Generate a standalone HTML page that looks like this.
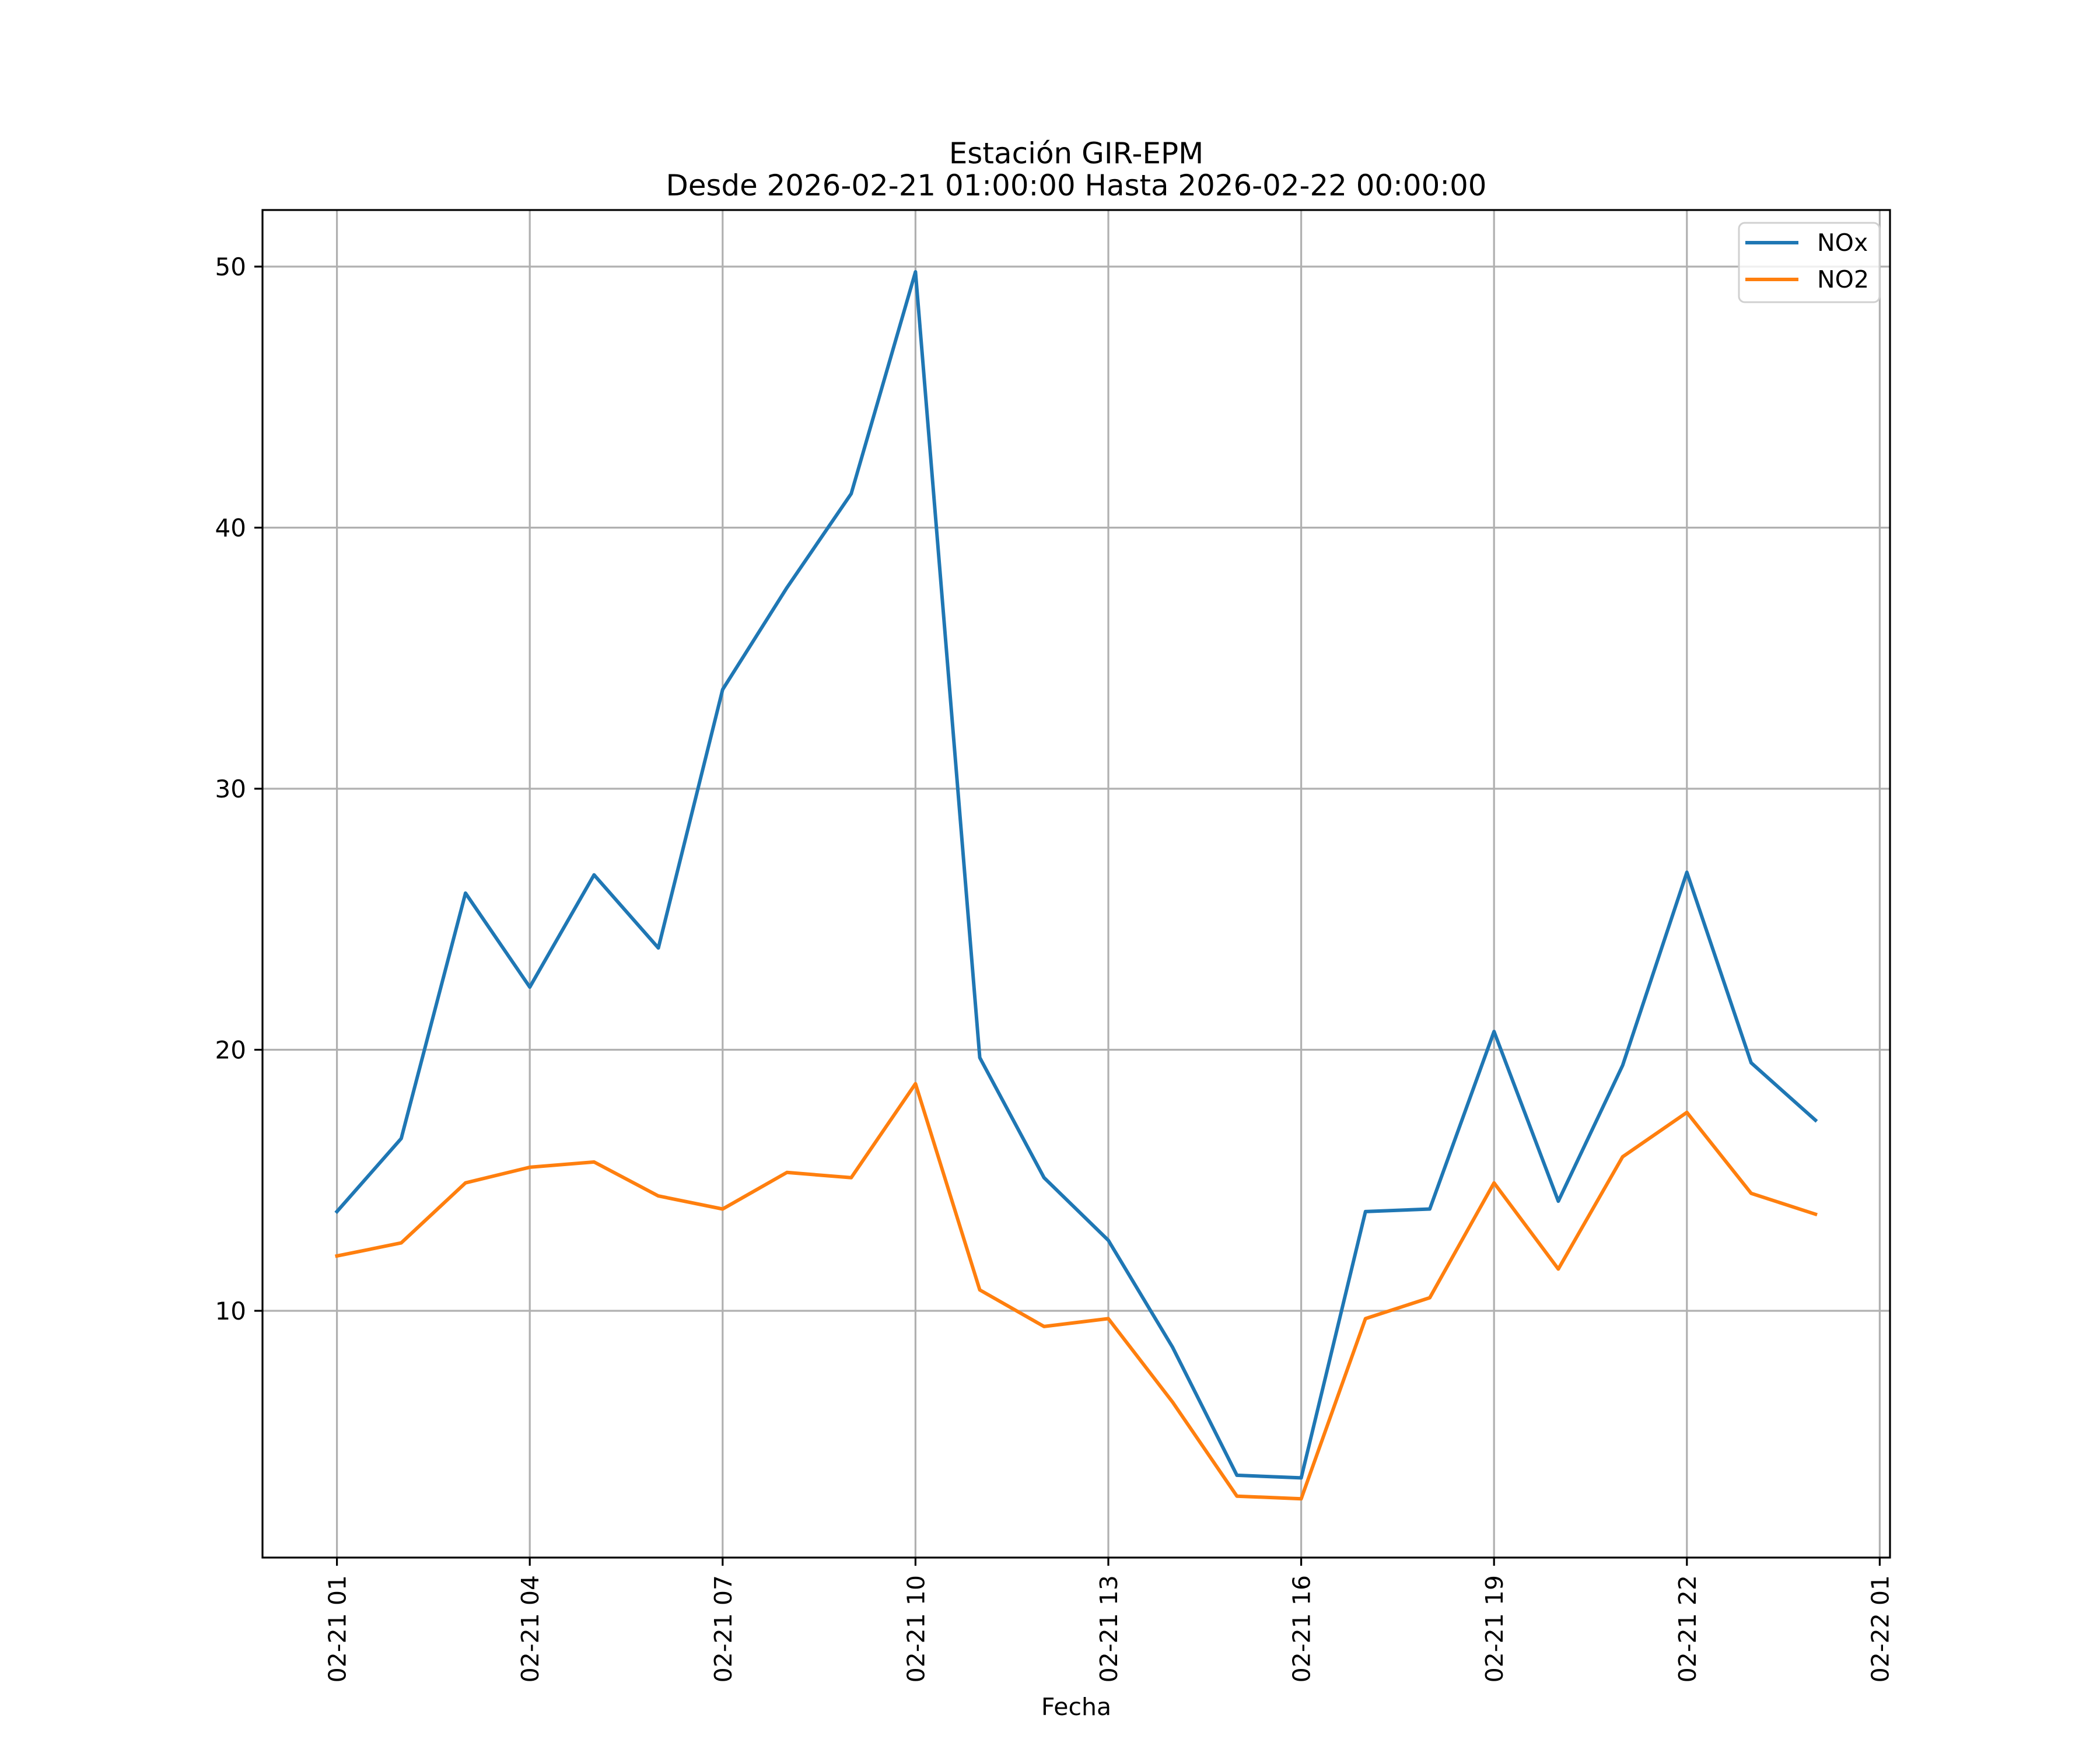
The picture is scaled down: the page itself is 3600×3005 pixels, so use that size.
<!DOCTYPE html>
<html><head><meta charset="utf-8"><style>
html,body{margin:0;padding:0;background:#fff;}
svg text{font-family:"DejaVu Sans","Liberation Sans",sans-serif;fill:#000;}
</style></head><body>
<svg id="chart" width="3600" height="3000" viewBox="0 0 3600 3000" xmlns="http://www.w3.org/2000/svg">
<rect width="3600" height="3000" fill="#fff"/>
<g id="grid"></g>
<g id="series"></g>
<rect x="450" y="360" width="2790" height="2310" fill="none" stroke="#000" stroke-width="3.2"/>
<g id="ticks"></g>
<text x="1845" y="280" font-size="50" text-anchor="middle">Estación GIR-EPM</text>
<text x="1845" y="335" font-size="50" text-anchor="middle" textLength="1407" lengthAdjust="spacingAndGlyphs">Desde 2026-02-21 01:00:00 Hasta 2026-02-22 00:00:00</text>
<text x="1845" y="2940" font-size="41" text-anchor="middle">Fecha</text>
<g>
<rect x="2981" y="382" width="241" height="136" rx="10" fill="#fff" fill-opacity="0.8" stroke="#d0d0d0" stroke-width="3"/>
<line x1="2992" y1="416" x2="3083" y2="416" stroke="#1f77b4" stroke-width="6"/>
<text x="3115" y="430" font-size="41">NOx</text>
<line x1="2992" y1="479" x2="3083" y2="479" stroke="#ff7f0e" stroke-width="6"/>
<text x="3115" y="493" font-size="41">NO2</text>
</g>
</svg>
<script>
const hours = [1,2,3,4,5,6,7,8,9,10,11,12,13,14,15,16,17,18,19,20,21,22,23,24];
const noxValues = [13.8,16.6,26.0,22.4,26.7,23.9,33.8,37.7,41.3,49.8,19.7,15.1,12.7,8.6,3.7,3.6,13.8,13.9,20.7,14.2,19.4,26.8,19.5,17.3];
const no2Values = [12.1,12.6,14.9,15.5,15.7,14.4,13.9,15.3,15.1,18.7,10.8,9.4,9.7,6.5,2.9,2.8,9.7,10.5,14.9,11.6,15.9,17.6,14.5,13.7];
const xTickHours = [1,4,7,10,13,16,19,22,25];
const xTickLabels = ["02-21 01","02-21 04","02-21 07","02-21 10","02-21 13","02-21 16","02-21 19","02-21 22","02-22 01"];
const yTicks = [10,20,30,40,50];

const NS = "http://www.w3.org/2000/svg";
function xs(h){ return 577.6 + (h-1)*110.2; }
function ys(v){ return 457 + (50 - v)*44.75; }
function mk(tag, attrs, parent){ const e=document.createElementNS(NS,tag); for(const k in attrs) e.setAttribute(k,attrs[k]); parent.appendChild(e); return e; }
const grid=document.getElementById('grid'), ticks=document.getElementById('ticks'), series=document.getElementById('series');

xTickHours.forEach((h,i)=>{
  const x=xs(h);
  const g=mk('line',{x1:x,y1:360,x2:x,y2:2670,stroke:'#b0b0b0','stroke-width':3.2},grid);
  
  
  const t=mk('line',{x1:x,y1:2670,x2:x,y2:2684,stroke:'#000','stroke-width':3.2},ticks);
  
  
  const lb=mk('text',{x:0,y:0,'font-size':41,'text-anchor':'end',transform:`translate(${x+15},2700) rotate(-90)`},ticks);
  lb.textContent=xTickLabels[i];
  
  
});
yTicks.forEach(v=>{
  const y=ys(v);
  const g=mk('line',{x1:450,y1:y,x2:3240,y2:y,stroke:'#b0b0b0','stroke-width':3.2},grid);
  
  
  const t=mk('line',{x1:436,y1:y,x2:450,y2:y,stroke:'#000','stroke-width':3.2},ticks);
  
  
  const lb=mk('text',{x:422,y:y+15,'font-size':42,'text-anchor':'end'},ticks);
  lb.textContent=String(v);
  
  
});
function drawLine(vals,color,name){
  const pts=vals.map((v,i)=>xs(hours[i]).toFixed(1)+','+ys(v).toFixed(1)).join(' ');
  const p=mk('polyline',{points:pts,fill:'none',stroke:color,'stroke-width':6,'stroke-linejoin':'round','stroke-linecap':'square'},series);
  
  
}
drawLine(noxValues,'#1f77b4','nox-line');
drawLine(no2Values,'#ff7f0e','no2-line');
</script>
</body></html>
